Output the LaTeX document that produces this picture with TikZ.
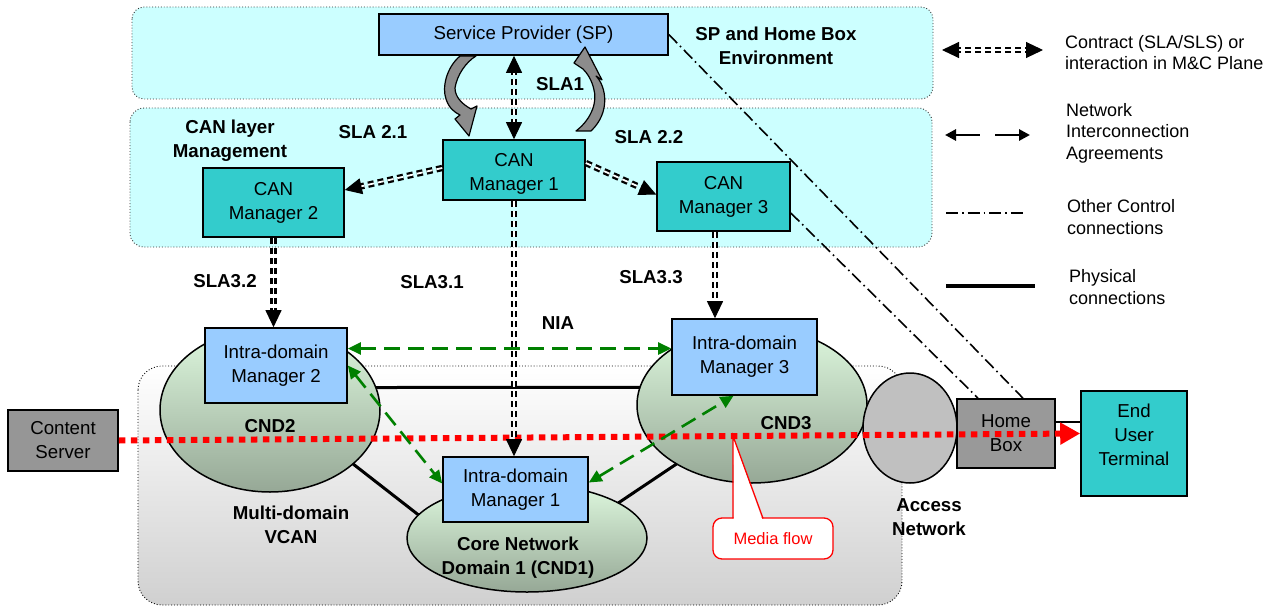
\documentclass[tikz,border=0pt]{standalone}
\usepackage{fontspec}
\setmainfont{Liberation Sans}
\usetikzlibrary{arrows.meta,shapes.geometric,calc}

\definecolor{envcyan}{RGB}{204,255,255}
\definecolor{spblue}{RGB}{153,204,255}
\definecolor{canteal}{RGB}{51,204,204}
\definecolor{csgray}{RGB}{150,150,150}
\definecolor{hbgray}{RGB}{153,153,153}
\definecolor{angray}{RGB}{192,192,192}
\definecolor{cndtop}{RGB}{222,248,222}
\definecolor{cndbot}{RGB}{150,168,150}
\definecolor{niagreen}{RGB}{0,128,0}
\definecolor{vcanbot}{RGB}{208,208,208}
\definecolor{curvegray}{RGB}{140,140,140}

\newcommand\fsz{\fontsize{18.7}{24}\selectfont}
\newcommand\fsl{\fontsize{18}{21.5}\selectfont}
\newcommand\fsm{\fontsize{16.5}{20}\selectfont}

\begin{document}
\begin{tikzpicture}[x=1pt,y=-1pt,
  box/.style={draw=black, line width=1.6pt, inner sep=0pt, align=center, font=\fsz},
  cnd/.style={ellipse, draw=black, line width=1.5pt, inner sep=0pt, outer sep=0pt, top color=cndtop, bottom color=cndbot},
  lbl/.style={font=\fsz\bfseries, align=center, inner sep=0pt},
  leg/.style={font=\fsl, align=left, anchor=west, inner sep=0pt},
  dd/.style={draw=black, double=white, double distance=1.8pt, line width=2.3pt, dash pattern=on 6pt off 4pt},
  ddtip/.style={draw=black, line width=1pt, dash pattern=on 0pt off 3000pt},
  ctb/.style={{Triangle[length=17pt,width=16pt]}-{Triangle[length=17pt,width=16pt]}},
  cte/.style={-{Triangle[length=17pt,width=16pt]}},
  nia/.style={draw=niagreen, line width=2.6pt, dash pattern=on 16pt off 8pt, {Triangle[length=13pt,width=12pt]}-{Triangle[length=13pt,width=12pt]}},
  phys/.style={draw=black, line width=3pt},
  ctrl/.style={draw=black, line width=1.6pt, dash pattern=on 12pt off 4pt on 1.6pt off 4pt},
  media/.style={draw=red, line width=6pt, dash pattern=on 6.5pt off 5.5pt, -{Triangle[length=20pt,width=21pt]}},
  curved/.style={fill=curvegray, draw=black, line width=1.2pt, line join=round}
]
\useasboundingbox (0,0) rectangle (1279,607);

% ---------- regions ----------
\draw[fill=envcyan, draw=black!80, line width=0.9pt, dotted, rounded corners=12pt] (132,7) rectangle (933,99);
\draw[fill=envcyan, draw=black!80, line width=0.9pt, dotted, rounded corners=14pt] (130,108) rectangle (932,247);
\draw[top color=white, bottom color=vcanbot, draw=black, line width=0.9pt, dotted, rounded corners=24pt] (138,366) rectangle (902,605);

% ---------- domains ----------
\node[cnd, minimum width=220pt, minimum height=164pt] (cnd2) at (270,410) {};
\node[cnd, minimum width=240pt, minimum height=108pt] (cnd1) at (527,538) {};
\node[cnd, minimum width=230pt, minimum height=156pt] (cnd3) at (752,405) {};
\node[ellipse, draw=black, line width=1.5pt, fill=angray, minimum width=94pt, minimum height=110pt, inner sep=0pt, outer sep=0pt] (an) at (910,428) {};

% ---------- physical connections ----------
\draw[phys] (cnd2.12) -- (cnd3.171);
\draw[phys] (cnd2.-33) -- (cnd1.168);
\draw[phys] (cnd1.21) -- (cnd3.-142);

% ---------- boxes ----------
\node[box, fill=spblue, minimum width=289pt, minimum height=41pt] (sp) at (523.5,34.5) {Service Provider (SP)};
\node[box, fill=canteal, minimum width=142pt, minimum height=60pt] (cm1) at (514,170) {\rule{0pt}{20pt}CAN\\Manager 1};
\node[box, fill=canteal, minimum width=141pt, minimum height=69pt] (cm2) at (273.5,202.5) {CAN\\Manager 2};
\node[box, fill=canteal, minimum width=133pt, minimum height=69pt] (cm3) at (723.5,196.5) {CAN\\Manager 3};
\node[box, fill=spblue, minimum width=142pt, minimum height=75pt] (im2) at (276,365.5) {Intra-domain\\Manager 2};
\node[box, fill=spblue, minimum width=145pt, minimum height=65pt] (im1) at (515.5,489.5) {Intra-domain\\Manager 1};
\node[box, fill=spblue, minimum width=145pt, minimum height=76pt] (im3) at (744.5,357) {Intra-domain\\Manager 3};
\node[box, fill=csgray, minimum width=110pt, minimum height=61pt] (cs) at (63,440.5) {Content\\Server};
\node[box, fill=hbgray, minimum width=98pt, minimum height=69pt] (hb) at (1006,433.5) {Home\\Box};
\node[box, fill=canteal, minimum width=106pt, minimum height=105pt] (eut) at (1134,443.5) {};
\node[font=\fsz, align=center, inner sep=0pt] (eutt) at ([yshift=8.5pt]eut.center) {End\\User\\Terminal};

\draw[phys, line width=2.4pt] ([yshift=11.5pt]hb.east) -- ([yshift=11.5pt]hb.east -| eut.west);

% ---------- labels ----------
\node[lbl] (envl) at (776,45.5) {SP and Home Box\\Environment};
\node[lbl] (canl) at (230,140.5) {CAN layer\\Management};
\node[lbl] (sla1) at (560,84) {SLA1};
\node[lbl] (sla21) at (373,132) {SLA 2.1};
\node[lbl] (sla22) at (649,137) {SLA 2.2};
\node[lbl] (sla32) at (225,281) {SLA3.2};
\node[lbl] (sla31) at (432,282) {SLA3.1};
\node[lbl] (sla33) at (651,277) {SLA3.3};
\node[lbl] (nial) at (558,323) {NIA};
\node[lbl] (cnd2l) at (270,426) {CND2};
\node[lbl] (cnd3l) at (786,423) {CND3};
\node[lbl] (cnd1l) at (518,558) {Core Network\\Domain 1 (CND1)};
\node[lbl] (vcanl) at (291,525) {Multi-domain\\VCAN};
\node[lbl] (anl) at (929,517) {Access\\Network};

% ---------- other control connections ----------
\draw[ctrl] (sp.east) -- ([xshift=17pt]hb.north);
\draw[ctrl] ([yshift=-16.5pt]cm3.east) -- ([xshift=-28pt]hb.north);

% ---------- curved SLA1 arrows ----------
\draw[curved] (460,56) .. controls (446,68) and (442,88) .. (446,99)
  .. controls (449,108) and (454,112) .. (460,115) -- (455,119) -- (469,136) -- (477,106) -- (471,109)
  .. controls (462,104) and (455,97) .. (455,88) .. controls (457,75) and (466,62) .. (476,56) -- cycle;
\draw[curved] (576,131) .. controls (593,118) and (597,100) .. (594,90)
  .. controls (592,80) and (587,73) .. (583,69) -- (574,63) -- (585,47) -- (602,80) -- (596,76)
  .. controls (606,86) and (611,112) .. (591,131) -- cycle;

% ---------- media flow ----------
\draw[media] (cs.east) -- ([yshift=10pt]eut.west);

% ---------- contracts (SLA) ----------
\draw[dd, shorten <=13pt, shorten >=13pt] (sp.south -| cm1.north) -- (cm1.north);
\draw[ddtip, ctb] (sp.south -| cm1.north) -- (cm1.north);
\draw[dd, shorten >=13pt] ([yshift=2pt]cm1.west) -- ([yshift=12.5pt]cm2.east);
\draw[ddtip, cte] ([yshift=2pt]cm1.west) -- ([yshift=12.5pt]cm2.east);
\draw[dd, shorten >=13pt] ([yshift=7pt]cm1.east) -- ([yshift=2pt]cm3.west);
\draw[ddtip, cte] ([yshift=7pt]cm1.east) -- ([yshift=2pt]cm3.west);
\draw[dd, shorten >=13pt] (cm2.south) -- (cm2.south |- im2.north);
\draw[ddtip, cte] (cm2.south) -- (cm2.south |- im2.north);
\draw[dd, shorten >=13pt] (cm1.south) -- (cm1.south |- im1.north);
\draw[ddtip, cte] (cm1.south) -- (cm1.south |- im1.north);
\draw[dd, shorten >=13pt] ([xshift=-8.5pt]cm3.south) -- ([xshift=-8.5pt]cm3.south |- im3.north);
\draw[ddtip, cte] ([xshift=-8.5pt]cm3.south) -- ([xshift=-8.5pt]cm3.south |- im3.north);

% ---------- NIA ----------
\draw[nia] ([yshift=17pt]im2.east) -- ([yshift=17pt]im2.east -| im3.west);
\draw[nia] (im2.east) -- ([yshift=6pt]im1.west);
\draw[nia] ([yshift=7pt]im1.east) -- ([xshift=-11pt]im3.south);

% ---------- media flow callout ----------
\node[draw=red, line width=1.3pt, fill=white, rounded corners=9pt, minimum width=120pt, minimum height=41pt, inner sep=0pt, font=\fsm, text=red] (mf) at (773,538.5) {Media flow};
\coordinate (mfp) at (733,436);
\fill[white] (733.7,519.8) -- (mfp) -- (762.3,519.8) -- cycle;
\draw[red, line width=1.3pt, line join=miter] (733,518.4) -- (mfp) -- (763,518.4);

% ---------- legend ----------
\coordinate (la1) at (942,50);
\coordinate (lb1) at (1043,50);
\draw[dd, shorten <=13pt, shorten >=13pt] (la1) -- (lb1);
\draw[ddtip, ctb] (la1) -- (lb1);
\node[leg] (lt1) at (1065,52.5) {Contract (SLA/SLS) or\\interaction in M\&C Plane};

\coordinate (la2) at (945,135);
\coordinate (lb2) at (1030,135);
\draw[draw=black, line width=2.8pt, dash pattern=on 25pt off 15pt, {Triangle[length=11pt,width=11pt]}-{Triangle[length=11pt,width=11pt]}] (la2) -- (lb2);
\node[leg] (lt2) at (1066,133) {Network\\Interconnection\\Agreements};

\coordinate (la3) at (946,213);
\coordinate (lb3) at (1025,213);
\draw[ctrl] (la3) -- (lb3);
\node[leg] (lt3) at (1067,217) {Other Control\\connections};

\coordinate (la4) at (946,286);
\coordinate (lb4) at (1035,286);
\draw[phys, line width=3.4pt] (la4) -- (lb4);
\node[leg] (lt4) at (1069,287) {Physical\\connections};

\end{tikzpicture}
\end{document}
